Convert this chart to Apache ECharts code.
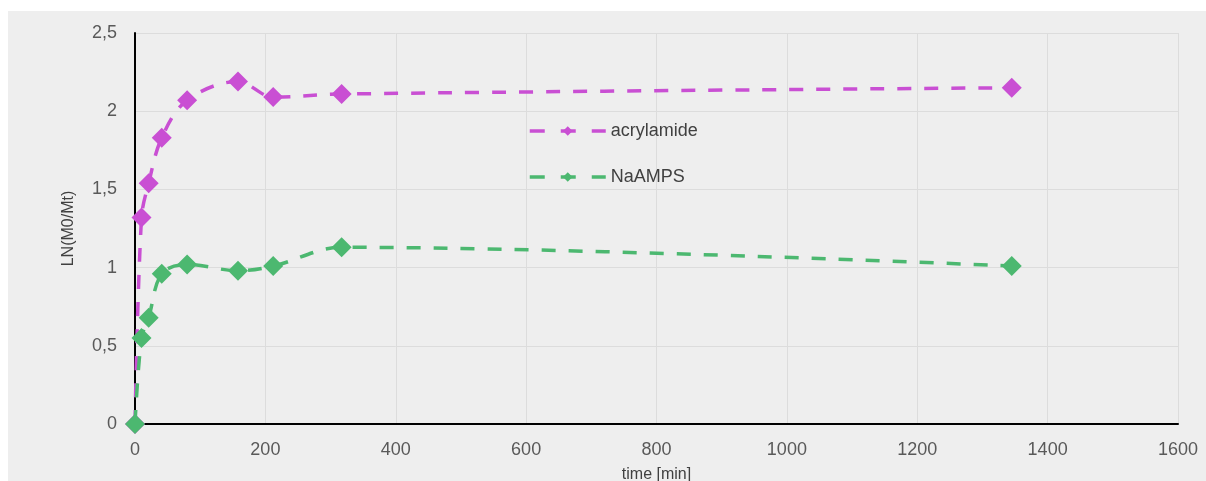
<!DOCTYPE html>
<html>
<head>
<meta charset="utf-8">
<script src="https://cdn.jsdelivr.net/npm/echarts@6/dist/echarts.min.js"></script>
<style>
  html, body { margin: 0; padding: 0; background: #ffffff; }
  #chart {
    position: absolute;
    left: 8px;
    top: 11px;
    width: 1198px;
    height: 470px;
    background: #eeeeee;
  }
</style>
</head>
<body>
<div id="chart"></div>
<script>
// time [min] and LN(M0/Mt) values
var acrylTime = [0, 10, 21, 41, 80, 158, 212, 317, 1345];
var acrylVal = [0, 1.32, 1.54, 1.83, 2.07, 2.19, 2.09, 2.11, 2.15];
var naampsTime = [0, 10, 21, 41, 80, 158, 212, 317, 1345];
var naampsVal = [0, 0.55, 0.68, 0.96, 1.02, 0.98, 1.01, 1.13, 1.01];

function pairs(xs, ys) {
  return xs.map(function (x, i) { return [x, ys[i]]; });
}

var chart = echarts.init(document.getElementById("chart"));

var option = {
  backgroundColor: "#eeeeee",
  animation: false,
  grid: {
    left: 127,
    right: 28,
    top: 22,
    bottom: 57,
    outerBoundsMode: "none",
  },
  xAxis: {
    type: "value",
    min: 0,
    max: 1600,
    interval: 200,
    name: "time [min]",
    nameLocation: "middle",
    nameGap: 43,
    nameTextStyle: { color: "#404040", fontSize: 16, fontFamily: "Liberation Sans" },
    axisLine: { onZero: false, lineStyle: { color: "#000000", width: 2 } },
    axisTick: { show: false },
    axisLabel: {
      color: "#595959",
      fontSize: 18,
      margin: 17,
      fontFamily: "Liberation Sans",
      formatter: function (v) { return String(v); },
    },
    splitLine: { show: true, lineStyle: { color: "#dcdcdc", width: 1 } },
  },
  yAxis: {
    type: "value",
    min: 0,
    max: 2.5,
    interval: 0.5,
    name: "LN(M0/Mt)",
    nameLocation: "middle",
    nameGap: 58,
    nameTextStyle: { color: "#404040", fontSize: 16, fontFamily: "Liberation Sans" },
    axisLine: { show: true, lineStyle: { color: "#000000", width: 2 } },
    axisTick: { show: false },
    axisLabel: {
      color: "#595959",
      fontSize: 18,
      margin: 18,
      fontFamily: "Liberation Sans",
      formatter: function (v) { return String(v).replace(".", ","); },
    },
    splitLine: { show: true, lineStyle: { color: "#dcdcdc", width: 1 } },
  },
  legend: {
    orient: "vertical",
    left: 515,
    top: 106,
    itemWidth: 76,
    itemHeight: 12,
    itemGap: 28,
    lineStyle: { width: 3.5, type: [15, 16] },
    textStyle: { color: "#404040", fontSize: 18, fontFamily: "Liberation Sans" },
    data: ["acrylamide", "NaAMPS"],
  },
  series: [
    {
      name: "acrylamide",
      type: "line",
      data: pairs(acrylTime, acrylVal),
      smooth: 0.35,
      symbol: "diamond",
      symbolSize: 20,
      itemStyle: { color: "#c94fd3" },
      lineStyle: { color: "#c94fd3", width: 3.5, type: [14, 13] },
      z: 2,
    },
    {
      name: "NaAMPS",
      type: "line",
      data: pairs(naampsTime, naampsVal),
      smooth: 0.35,
      symbol: "diamond",
      symbolSize: 20,
      itemStyle: { color: "#4cb870" },
      lineStyle: { color: "#4cb870", width: 3.5, type: [14, 13] },
      z: 3,
    },
  ],
};

chart.setOption(option);
</script>
</body>
</html>
